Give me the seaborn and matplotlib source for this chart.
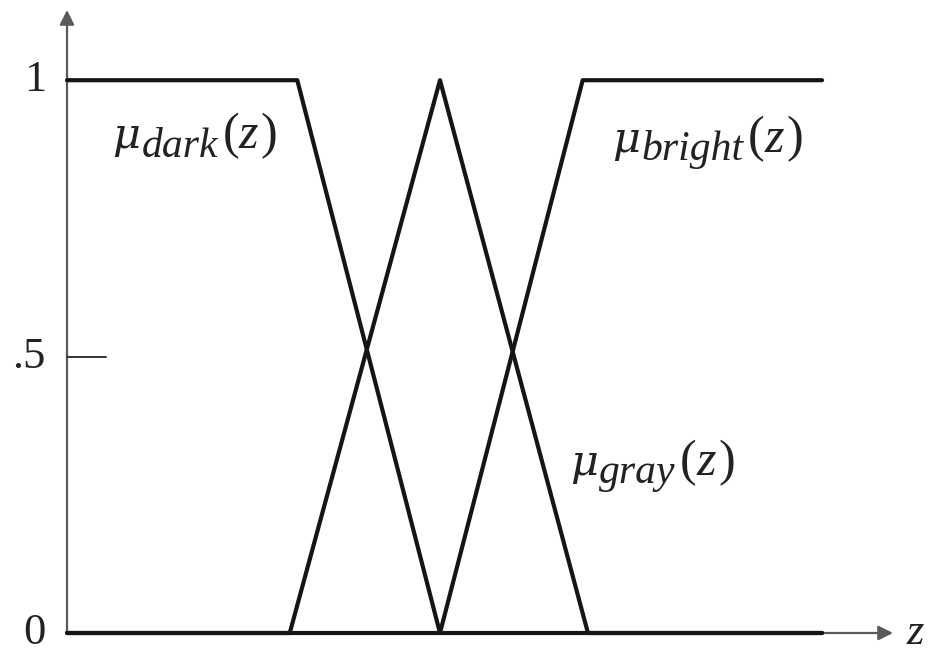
import matplotlib
matplotlib.use("Agg")
import matplotlib.pyplot as plt
import matplotlib.transforms as mtransforms
import seaborn as sns
import pandas as pd

# membership functions (z normalised to 0..1)
z_dark = [0.0, 0.305, 0.494, 1.0]
mu_dark = [1.0, 1.0, 0.0, 0.0]
z_gray = [0.0, 0.295, 0.494, 0.690, 1.0]
mu_gray = [0.0, 0.0, 1.0, 0.0, 0.0]
z_bright = [0.0, 0.494, 0.683, 1.0]
mu_bright = [0.0, 0.0, 1.0, 1.0]

ytick_vals = [0, 0.5, 1]
ytick_labels = ["0", ".5", "1"]

sns.set_theme(style="white")
plt.rcParams["font.family"] = ["Liberation Serif", "DejaVu Serif"]

frames = []
for name, zs, mus in [("dark", z_dark, mu_dark), ("gray", z_gray, mu_gray), ("bright", z_bright, mu_bright)]:
    frames.append(pd.DataFrame({"z": zs, "mu": mus, "set": name}))
df = pd.concat(frames, ignore_index=True)

fig = plt.figure(figsize=(9.33, 6.53), dpi=100)
ax = fig.add_axes([67 / 933, 20 / 653, (893 - 67) / 933, (643 - 20) / 653])
ax.set_xlim(0, 1.094)
ax.set_ylim(0, 1.127)
ax.axis("off")

axis_col = "#5a5a5a"
txt_col = "#222222"
# axes with arrows
ax.annotate("", xy=(1.094, 0), xytext=(0, 0),
            arrowprops=dict(arrowstyle="-|>", color=axis_col, lw=1.6, mutation_scale=22, shrinkA=0, shrinkB=0),
            annotation_clip=False, zorder=1)
ax.annotate("", xy=(0, 1.127), xytext=(0, 0),
            arrowprops=dict(arrowstyle="-|>", color=axis_col, lw=1.6, mutation_scale=22, shrinkA=0, shrinkB=0),
            annotation_clip=False, zorder=1)
ax.plot([0, 0.052], [0.5, 0.5], color="#333333", lw=1.4, clip_on=False)

sns.lineplot(data=df, x="z", y="mu", units="set", estimator=None, sort=False,
             color="#151515", linewidth=3.0, ax=ax, legend=False, clip_on=False, zorder=3)

for v, lab in zip(ytick_vals, ytick_labels):
    ax.text(-0.028, v, lab, ha="right", va="center", fontsize=32, color=txt_col, clip_on=False)
ax.text(1.112, 0, "z", ha="left", va="center", fontsize=32, style="italic", color=txt_col)

renderer = fig.canvas.get_renderer()


def mu_label(x, y, sub):
    # pieces: text, font, size, style, vertical shift (points), gap after (points)
    pieces = [("\u03bc", "DejaVu Serif", 31, "italic", 0, 1),
              (sub, "Liberation Serif", 30, "italic", -6, 3),
              ("(", "Liberation Serif", 36, "normal", 0, 0),
              ("z", "Liberation Serif", 36, "italic", 0, 1.5),
              (")", "Liberation Serif", 36, "normal", 0, 0)]
    dx = 0.0
    for s, fam, size, style, dy, pad in pieces:
        tr = mtransforms.offset_copy(ax.transData, fig=fig, x=dx, y=dy, units="points")
        t = ax.text(x, y, s, transform=tr, ha="left", va="baseline", fontsize=size,
                    family=fam, style=style, color=txt_col)
        w = t.get_window_extent(renderer).width * 72 / fig.dpi
        dx += w + pad


mu_label(0.06, 0.877, "dark")
mu_label(0.722, 0.871, "bright")
mu_label(0.666, 0.286, "gray")

fig.savefig("out.png", dpi=100, facecolor="white")
